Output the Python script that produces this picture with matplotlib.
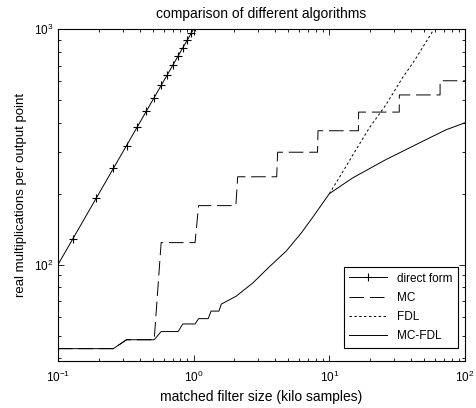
import matplotlib
matplotlib.use("Agg")
import matplotlib.pyplot as plt

plt.rcParams['font.family'] = ['Liberation Sans', 'DejaVu Sans']
plt.rcParams['mathtext.default'] = 'regular'

# filter sizes in kilo samples, costs in real multiplications per output point
direct_x = [0.064, 0.128, 0.192, 0.256, 0.32, 0.384, 0.448, 0.512, 0.576,
            0.64, 0.704, 0.768, 0.832, 0.896, 0.96, 1.024]
direct_y = [64, 128, 192, 256, 320, 384, 448, 512, 576,
            640, 704, 768, 832, 896, 960, 1024]

mc_x = [0.1, 0.256, 0.32, 0.512, 0.576, 1.024, 1.088, 2.048, 2.112, 4.096, 4.16,
        8.192, 8.256, 16.384, 16.448, 32.768, 32.832, 65.536, 65.6, 100]
mc_y = [44, 44, 48, 48, 124, 124, 178, 178, 236, 236, 300,
        300, 370, 370, 444, 444, 525, 525, 603, 603]

fdl_x = [10, 11.9, 14.8, 19.7, 26.1, 34.6, 42.2, 59.2, 70]
fdl_y = [200, 235, 290, 380, 476, 620, 731, 1000, 1180]

mcfdl_x = [0.1, 0.256, 0.32, 0.512, 0.576, 0.768, 0.832, 1.024, 1.088, 1.28, 1.344,
           1.536, 1.6, 2.06, 2.73, 3.62, 4.8, 6.2, 7.5, 10, 14.8, 26.1, 45.9, 72.1, 100]
mcfdl_y = [44, 44, 48, 48, 52, 52, 56, 56, 59, 59, 63.5,
           63.5, 68, 73.5, 83.6, 98, 114, 136, 158, 200, 233, 279, 328, 373, 400]

fig = plt.figure(figsize=(4.76, 4.08), dpi=100)
ax = fig.add_axes([0.1218, 0.1152, 0.855, 0.8137])

lw = 0.7
ax.plot(direct_x, direct_y, color='k', lw=lw, marker='+', ms=6, mew=0.8, label='direct form')
ax.plot(mc_x, mc_y, color='k', lw=lw, linestyle=(0, (15, 6)), label='MC')
ax.plot(fdl_x, fdl_y, color='k', lw=lw, linestyle=(0, (2.5, 2.5)), label='FDL')
ax.plot(mcfdl_x, mcfdl_y, color='k', lw=lw, label='MC-FDL')

ax.set_xscale('log')
ax.set_yscale('log')
ax.set_xlim(0.1, 100)
ax.set_ylim(39, 1000)

ax.tick_params(which='both', direction='in', top=True, right=True, labelsize=8.5, width=0.6)
ax.tick_params(which='major', length=4)
ax.tick_params(which='minor', length=2)
ax.tick_params(axis='x', pad=6)
for s in ax.spines.values():
    s.set_linewidth(0.8)

ax.set_title('comparison of different algorithms', fontsize=10, pad=8)
ax.set_xlabel('matched filter size (kilo samples)', fontsize=10, labelpad=4)
ax.set_ylabel('real multiplications per output point', fontsize=9.5, labelpad=5)

leg = ax.legend(loc='lower right', bbox_to_anchor=(0.983, 0.040), borderaxespad=0,
                fontsize=8.5, handlelength=3.2, fancybox=False, framealpha=1,
                edgecolor='k', labelspacing=0.6, borderpad=0.5)
leg.get_frame().set_linewidth(0.8)

fig.savefig('out.png', dpi=100)
